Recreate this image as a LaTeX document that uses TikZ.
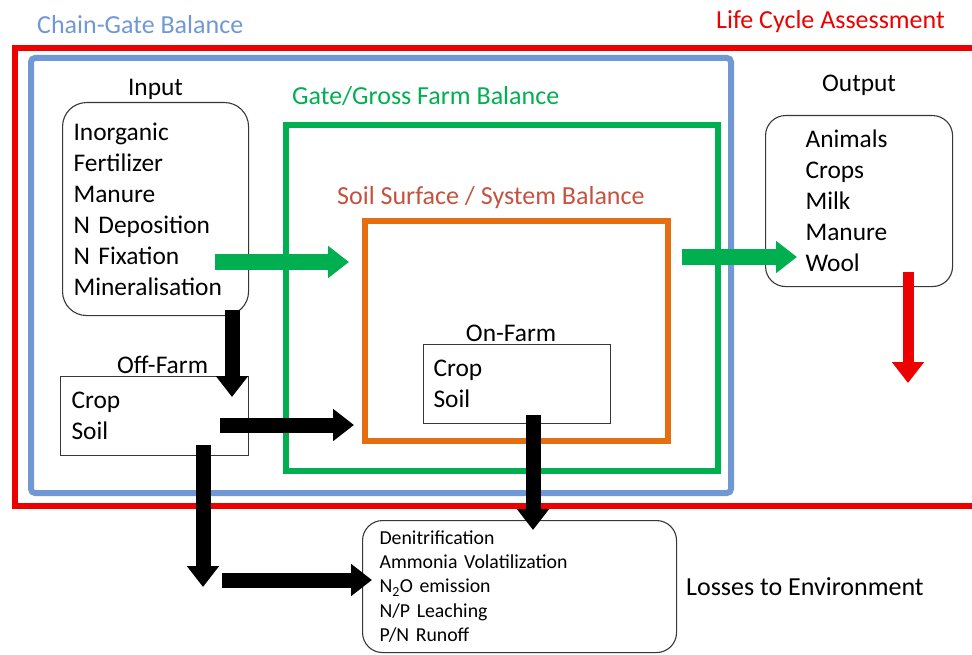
\documentclass[tikz,border=0pt]{standalone}
\usepackage{fontspec}
\setmainfont{Carlito}
\usetikzlibrary{arrows.meta, positioning}

\definecolor{lcared}{RGB}{236,0,0}
\definecolor{chainblue}{RGB}{112,152,212}
\definecolor{gategreen}{RGB}{0,176,80}
\definecolor{soilorange}{RGB}{228,110,16}
\definecolor{soiltitle}{RGB}{196,82,62}
\definecolor{boxline}{RGB}{55,55,55}

\tikzset{
    bigtext/.style={font=\fontsize{25.4}{31}\selectfont},
    smalltext/.style={font=\fontsize{19.8}{24.2}\selectfont},
    frame/.style={draw, line width=6pt, anchor=north west, inner sep=0pt},
    title/.style={font=\fontsize{26}{31}\selectfont, inner sep=0pt},
    box/.style={draw=boxline, line width=1.1pt, anchor=north west, align=left},
    bigarrow/.style={line width=15pt, -{Triangle[width=31pt,length=21pt]}},
}

\begin{document}
\begin{tikzpicture}[x=1pt,y=-1pt,every label/.append style={bigtext, inner sep=2pt}]
    \useasboundingbox (0,0) rectangle (972,655);
    % balance frames
    \node[frame, draw=lcared, minimum width=985pt, minimum height=458pt] (lca) at (12,45) {};
    \node[frame, draw=chainblue, rounded corners=4pt, minimum width=700pt, minimum height=435pt] (chain) at (28,55) {};
    \node[frame, draw=gategreen, minimum width=432pt, minimum height=346pt] (gate) at (283,122) {};
    \node[frame, draw=soilorange, minimum width=303pt, minimum height=220pt] (soil) at (362,218) {};

    \node[title, text=lcared, anchor=east] (lca-title) at (945,22) {Life Cycle Assessment};
    \node[title, text=chainblue, anchor=west] (chain-title) at (37,25) {Chain-Gate Balance};
    \node[title, text=gategreen, anchor=west] (gate-title) at (292,96) {Gate/Gross Farm Balance};
    \node[title, text=soiltitle, anchor=west] (soil-title) at (337,198) {Soil Surface / System Balance};

    % boxes
    \node[box, bigtext, rounded corners=24pt, minimum width=186pt, minimum height=213pt,
        text width=164pt, inner xsep=11pt, label={above:Input}] (input) at (62,102)
        {Inorganic\\Fertilizer\\Manure\\N Deposition\\N Fixation\\Mineralisation};
    \node[box, bigtext, rounded corners=20pt, minimum width=187pt, minimum height=171pt,
        text width=107pt, inner xsep=40pt, label={[yshift=17pt]above:Output}] (output) at (765,115)
        {Animals\\Crops\\Milk\\Manure\\Wool};
    \node[box, bigtext, minimum width=188pt, minimum height=79pt,
        text width=166pt, inner xsep=11pt, label={[xshift=8pt]above:Off-Farm}] (offfarm) at (60,376)
        {Crop\\Soil};
    \node[box, bigtext, minimum width=187pt, minimum height=79pt,
        text width=167pt, inner xsep=10pt, label={[xshift=-6pt]above:On-Farm}] (onfarm) at (423,344)
        {Crop\\Soil};
    \node[box, smalltext, rounded corners=20pt, minimum width=314pt, minimum height=132pt,
        text width=280pt, inner xsep=17pt] (losses) at (362,520)
        {Denitrification\\Ammonia Volatilization\\N\textsubscript{2}O emission\\N/P Leaching\\P/N Runoff};
    \node[title, anchor=west] (losses-title) at (686,587) {Losses to Environment};

    % flows
    \coordinate (in-a) at (215,262);
    \coordinate (soil-a) at (349,262);
    \coordinate (gate-a) at (682,257);
    \coordinate (out-a) at (797,257);
    \coordinate (out-b) at (908,272);
    \coordinate (lca-b) at (908,383);
    \coordinate (in-b) at (232,310);
    \coordinate (off-a) at (232,397);
    \coordinate (off-b) at (220,425);
    \coordinate (soil-b) at (354,425);
    \coordinate (on-a) at (533,415);
    \coordinate (loss-a) at (533,530);
    \coordinate (off-c) at (203,445);
    \coordinate (bend) at (203,587);
    \coordinate (bend-b) at (222,580);
    \coordinate (loss-b) at (372,580);

    \draw[bigarrow, gategreen] (in-a) -- (soil-a);
    \draw[bigarrow, gategreen] (gate-a) -- (out-a);
    \draw[bigarrow, lcared, line width=11pt] (out-b) -- (lca-b);
    \draw[bigarrow] (in-b) -- (off-a);
    \draw[bigarrow] (off-b) -- (soil-b);
    \draw[bigarrow] (on-a) -- (loss-a);
    \draw[bigarrow] (off-c) -- (bend);
    \draw[bigarrow] (bend-b) -- (loss-b);
\end{tikzpicture}
\end{document}
